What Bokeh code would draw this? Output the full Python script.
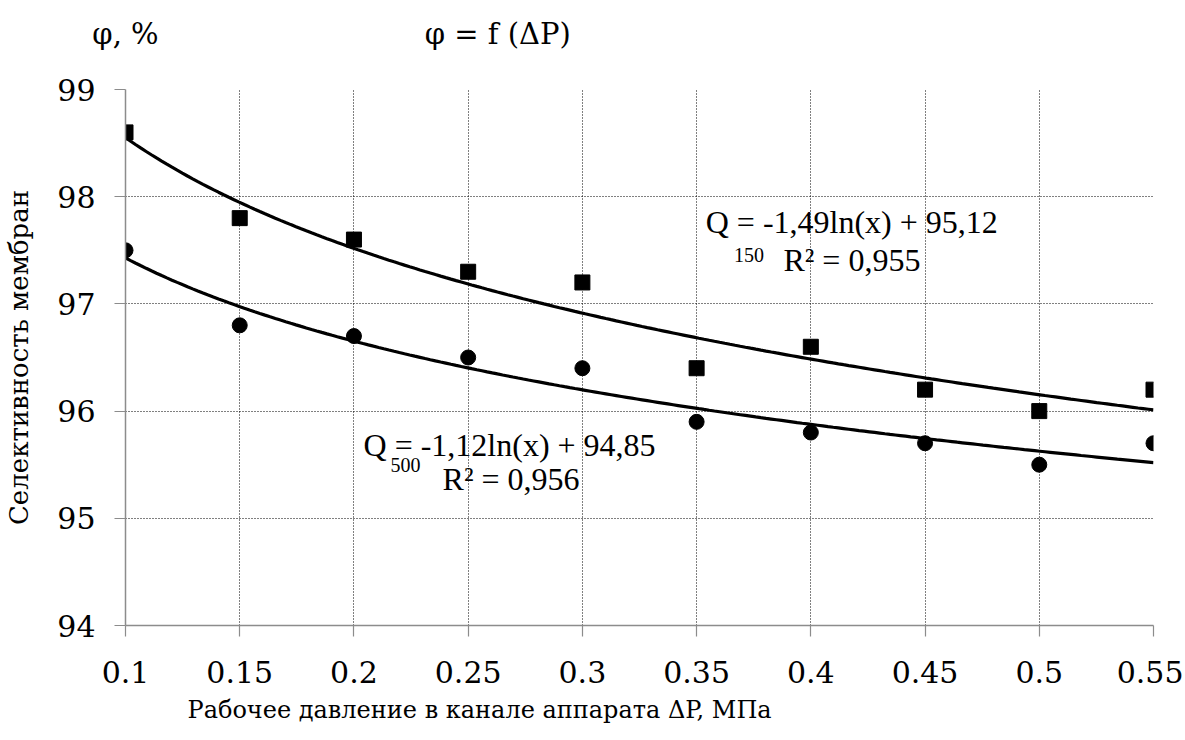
import numpy as np
from bokeh.plotting import figure
from bokeh.models import Range1d, FixedTicker, Label, Title, LinearAxis
from bokeh.embed import file_html
from bokeh.resources import INLINE

# ---- data ----
pressure = [0.1, 0.15, 0.2, 0.25, 0.3, 0.35, 0.4, 0.45, 0.5, 0.55]
sel_150 = [98.6, 97.8, 97.6, 97.3, 97.2, 96.4, 96.6, 96.2, 96.0, 96.2]
sel_500 = [97.5, 96.8, 96.7, 96.5, 96.4, 95.9, 95.8, 95.7, 95.5, 95.7]
trend_150 = [-1.49, 95.12]   # Q150 = a*ln(x) + b
trend_500 = [-1.12, 94.85]   # Q500 = a*ln(x) + b
x_ticks = [0.1, 0.15, 0.2, 0.25, 0.3, 0.35, 0.4, 0.45, 0.5, 0.55]
x_tick_labels = ["0.1", "0.15", "0.2", "0.25", "0.3", "0.35", "0.4", "0.45", "0.5", "0.55"]
y_ticks = [94, 95, 96, 97, 98, 99]
top_texts = ["φ, %", "φ = f (ΔP)"]

FONT = "Liberation Serif"     # used by the in-plot labels
AXFONT = "DejaVu Serif"       # used by axis / title texts

p = figure(
    frame_width=1028, frame_height=536,
    min_border_left=125, min_border_top=89, min_border_right=30, min_border_bottom=108,
    x_range=Range1d(0.1, 0.55), y_range=Range1d(94, 99),
    output_backend="svg", toolbar_location=None,
    background_fill_color="white", border_fill_color="white",
)
p.outline_line_color = None

# axes
for ax in (p.xaxis[0], p.yaxis[0]):
    ax.axis_line_color = "#8c8c8c"
    ax.axis_line_width = 1.5
    ax.major_tick_line_color = "#8c8c8c"
    ax.major_tick_line_width = 1.2
    ax.major_tick_out = 11
    ax.major_tick_in = 0
    ax.minor_tick_line_color = None
    ax.major_label_text_font = AXFONT
    ax.major_label_text_font_size = "30px"
    ax.major_label_text_color = "black"

p.xaxis.ticker = FixedTicker(ticks=x_ticks)
p.xaxis.major_label_overrides = {t: l for t, l in zip(x_ticks, x_tick_labels)}
p.xaxis.major_label_standoff = 24
p.yaxis.ticker = FixedTicker(ticks=y_ticks)
p.yaxis.major_label_standoff = 19

p.yaxis.axis_label = "Селективность мембран"
p.yaxis.axis_label_text_font = AXFONT
p.yaxis.axis_label_text_font_size = "26px"
p.yaxis.axis_label_text_font_style = "normal"
p.yaxis.axis_label_text_color = "black"
p.yaxis.axis_label_standoff = 20

# top texts, carried by a bare axis above the frame
top_pos = [0.1, 0.263]
top_axis = LinearAxis(ticker=FixedTicker(ticks=top_pos),
                      major_label_overrides={t: s for t, s in zip(top_pos, top_texts)},
                      axis_line_color=None, major_tick_line_color=None,
                      minor_tick_line_color=None, major_tick_out=0, major_tick_in=0,
                      major_label_standoff=39, major_label_text_font=AXFONT,
                      major_label_text_font_size="29px", major_label_text_color="black")
p.add_layout(top_axis, "above")

# x axis title
xtitle = Title(text="Рабочее давление в канале аппарата ΔP, МПа", align="left", offset=62,
               text_font=AXFONT, text_font_size="24px", text_font_style="normal",
               text_color="black", standoff=16)
p.add_layout(xtitle, "below")

# grid
for g in (p.xgrid[0], p.ygrid[0]):
    g.grid_line_color = "black"
    g.grid_line_alpha = 1.0
    g.grid_line_width = 1
    g.grid_line_dash = "1 2"

# trend lines
xs = np.linspace(pressure[0], pressure[-1], 200)
p.line(xs, trend_150[0] * np.log(xs) + trend_150[1], line_color="black", line_width=3.2)
p.line(xs, trend_500[0] * np.log(xs) + trend_500[1], line_color="black", line_width=3.2)

# points
p.scatter(pressure, sel_150, marker="square", size=15, fill_color="black", line_color="black")
p.scatter(pressure, sel_500, marker="circle", size=15, fill_color="black", line_color="black")

def add_label(x, y, text, size, align="left"):
    p.add_layout(Label(x=x, y=y, text=text, text_font=FONT, text_font_size=size,
                       text_color="black", text_align=align, text_baseline="middle"))

# equations
add_label(0.354, 97.76, "Q = -1,49ln(x) + 95,12", "32px")
add_label(0.3664, 97.46, "150", "20px")
add_label(0.388, 97.41, "R² = 0,955", "32px")

add_label(0.2042, 95.68, "Q = -1,12ln(x) + 94,85", "32px")
add_label(0.216, 95.50, "500", "20px")
add_label(0.2388, 95.37, "R² = 0,956", "32px")

open("out.html", "w").write(file_html(p, INLINE))
